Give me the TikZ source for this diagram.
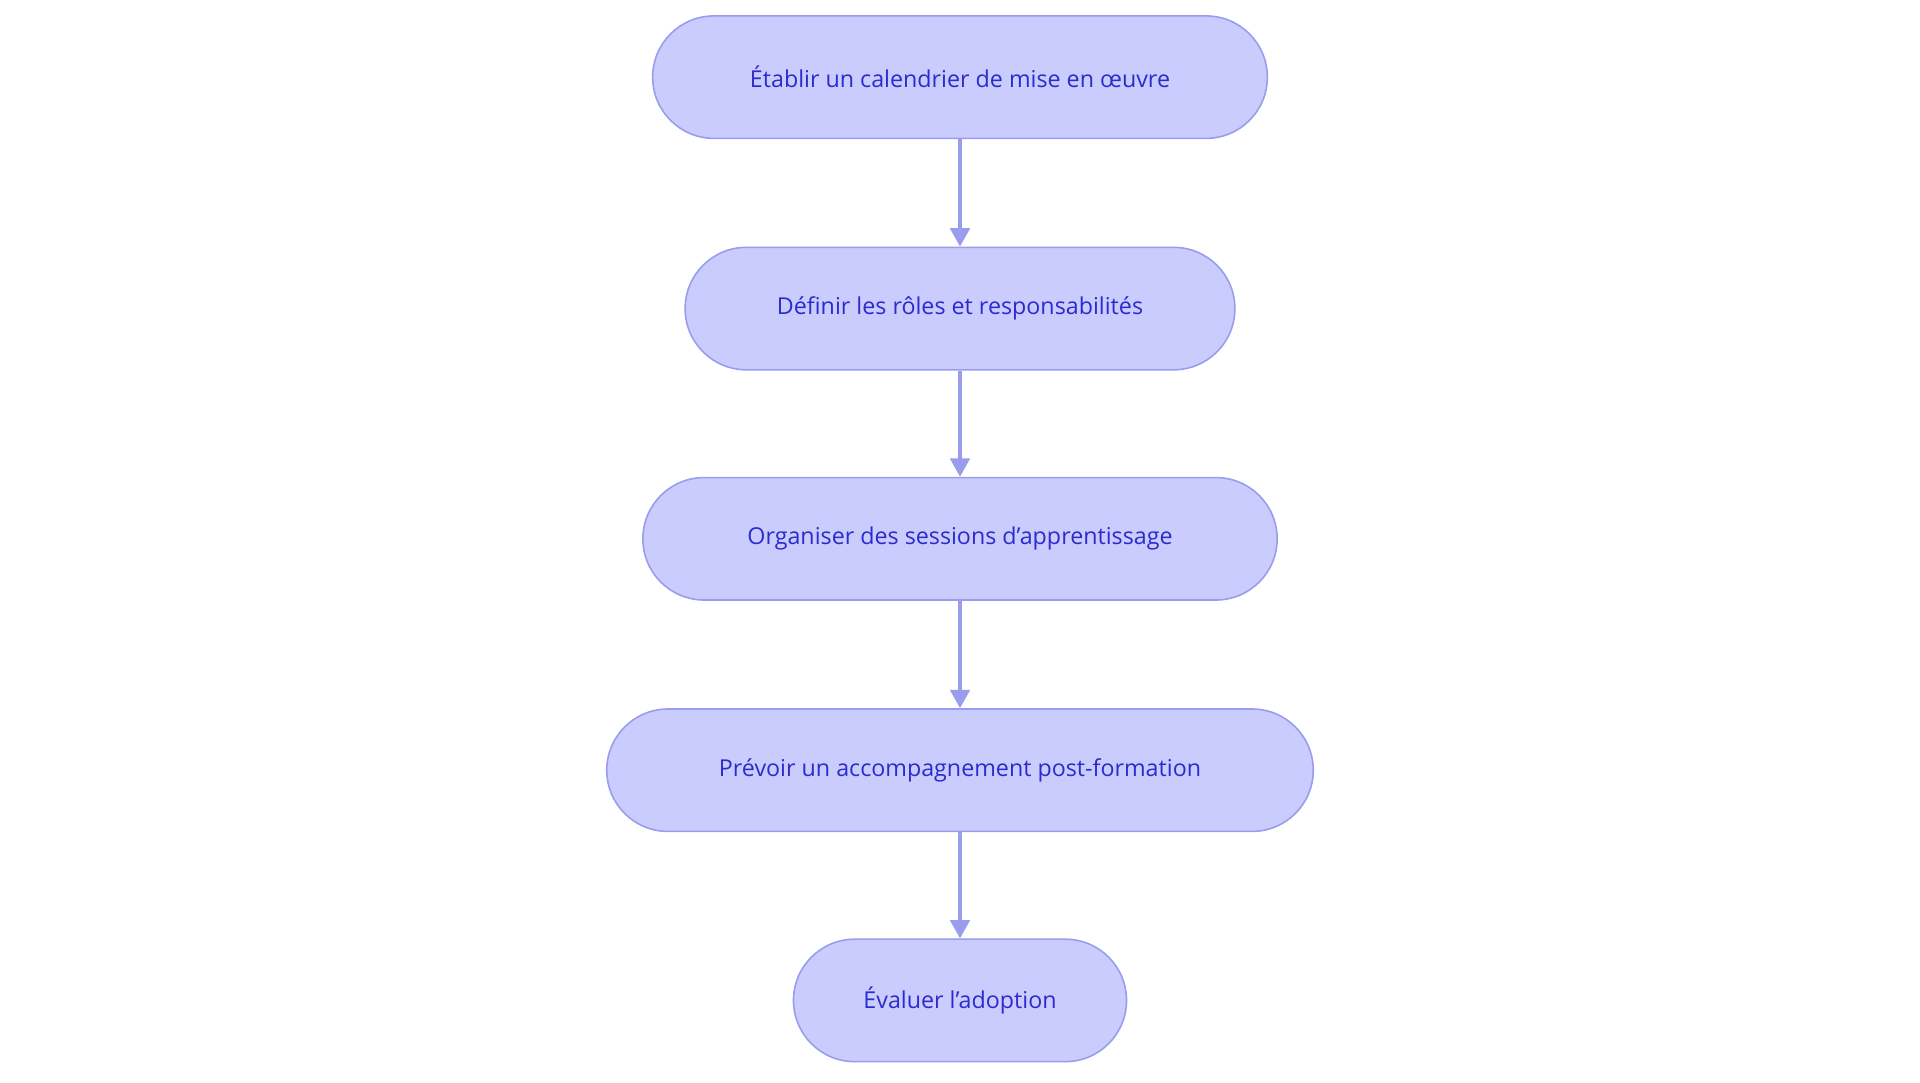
\documentclass[tikz,border=0pt]{standalone}
\usepackage{fontspec}
\setmainfont{Open Sans}
\usetikzlibrary{arrows.meta}
\definecolor{nfill}{HTML}{CACCFD}
\definecolor{nline}{HTML}{9A9CEE}
\definecolor{ntext}{HTML}{2B2BCF}
\begin{document}
\begin{tikzpicture}[x=1pt,y=-1pt,
  box/.style={draw=nline,line width=1.3pt,fill=nfill,rounded corners=50pt,minimum height=100pt,text=ntext,font=\fontsize{19}{22}\selectfont,anchor=center,inner sep=0pt},
  arr/.style={draw=nline,line width=2.6pt,-{Triangle[length=15pt,width=16pt]}}]
\useasboundingbox (0,0) rectangle (1568,884);
\node[box,minimum width=502pt] (a) at (784,63) {Établir un calendrier de mise en œuvre};
\node[box,minimum width=449pt] (b) at (784,252) {Définir les rôles et responsabilités};
\node[box,minimum width=518pt] (c) at (784,440) {Organiser des sessions d'apprentissage};
\node[box,minimum width=577pt] (d) at (784,629) {Prévoir un accompagnement post-formation};
\node[box,minimum width=272pt] (e) at (784,817) {Évaluer l'adoption};
\draw[arr] (a) -- (b);
\draw[arr] (b) -- (c);
\draw[arr] (c) -- (d);
\draw[arr] (d) -- (e);
\end{tikzpicture}
\end{document}
